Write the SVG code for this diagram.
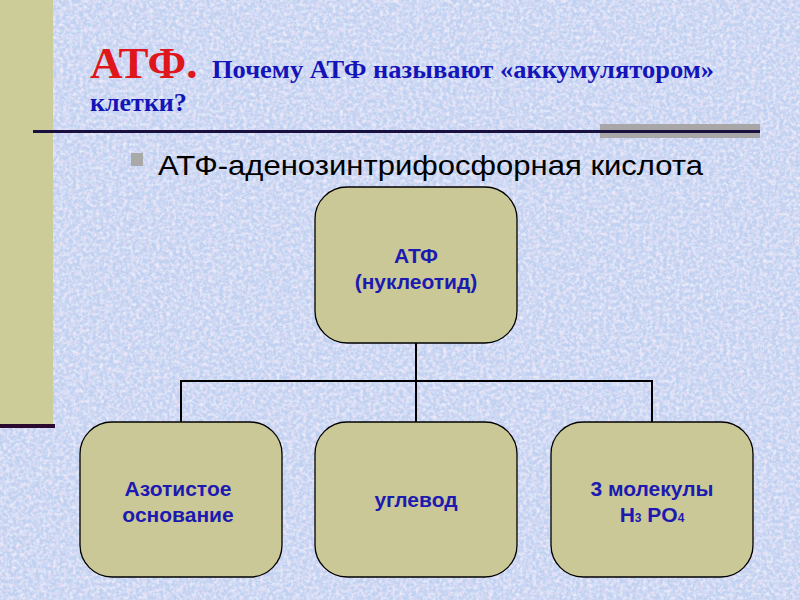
<svg xmlns="http://www.w3.org/2000/svg" width="800" height="600" viewBox="0 0 800 600">
  <defs>
    <filter id="noise" x="0" y="0" width="100%" height="100%">
      <feTurbulence type="fractalNoise" baseFrequency="0.25" numOctaves="3" seed="3" result="t"/>
      <feColorMatrix type="matrix" values="0 0 0 0 0.92  0 0 0 0 0.78  0 0 0 0 0.93  1.8 0 0 0 -0.75" in="t" result="pink"/>
      <feTurbulence type="fractalNoise" baseFrequency="0.3" numOctaves="3" seed="11" result="t2"/>
      <feColorMatrix type="matrix" values="0 0 0 0 0.88  0 0 0 0 0.93  0 0 0 0 1  1.8 0 0 0 -0.78" in="t2" result="white"/>
      <feMerge><feMergeNode in="pink"/><feMergeNode in="white"/></feMerge>
    </filter>
    <style>
      .box { fill: #cbc898; stroke: #000; stroke-width: 1.3; }
      .lbl { font-family: "Liberation Sans", Arial, sans-serif; font-weight: bold; font-size: 21px; fill: #1c1ab0; text-anchor: middle; }
      .con { stroke: #000; stroke-width: 2; fill: none; }
    </style>
  </defs>
  <rect x="0" y="0" width="800" height="600" fill="#c0d0f0"/>
  <rect x="0" y="0" width="800" height="600" filter="url(#noise)"/>
  <rect x="0" y="0" width="53" height="424" fill="#cccc99"/>
  <rect x="0" y="424" width="55" height="4" fill="#2a0a2e"/>
  <rect x="600" y="124" width="160" height="14" fill="#a9a6a8"/>
  <rect x="33" y="130" width="727" height="3" fill="#1a1040"/>

  <text x="90" y="78" font-family="Liberation Serif, 'Times New Roman', serif" font-weight="bold" font-size="45" fill="#e0161d">АТФ.</text>
  <text x="212" y="78" font-family="Liberation Serif, 'Times New Roman', serif" font-weight="bold" font-size="26" fill="#1414b8" textLength="502" lengthAdjust="spacingAndGlyphs">Почему АТФ называют «аккумулятором»</text>
  <text x="90" y="111" font-family="Liberation Serif, 'Times New Roman', serif" font-weight="bold" font-size="26" fill="#1414b8">клетки?</text>

  <rect x="131" y="153" width="12" height="13" fill="#a9a9a9"/>
  <text x="158" y="175" font-family="Liberation Sans, Arial, sans-serif" font-size="28" fill="#000" textLength="545" lengthAdjust="spacingAndGlyphs">АТФ-аденозинтрифосфорная кислота</text>

  <g id="connectors">
    <line class="con" x1="416" y1="343" x2="416" y2="422"/>
    <line class="con" x1="180" y1="381" x2="653" y2="381"/>
    <line class="con" x1="181" y1="381" x2="181" y2="422"/>
    <line class="con" x1="652" y1="381" x2="652" y2="422"/>
  </g>

  <g id="atf">
    <rect class="box" x="315" y="187" width="202" height="156" rx="32"/>
    <text class="lbl" x="416" y="263">АТФ</text>
    <text class="lbl" x="416" y="289">(нуклеотид)</text>
  </g>
  <g id="base">
    <rect class="box" x="80" y="422" width="202" height="155" rx="32"/>
    <text class="lbl" x="178" y="496">Азотистое</text>
    <text class="lbl" x="178" y="522">основание</text>
  </g>
  <g id="sugar">
    <rect class="box" x="315" y="422" width="202" height="155" rx="32"/>
    <text class="lbl" x="416" y="507">углевод</text>
  </g>
  <g id="phosphate">
    <rect class="box" x="551" y="422" width="202" height="155" rx="32"/>
    <text class="lbl" x="652" y="496">3 молекулы</text>
    <text class="lbl" x="652" y="522">H<tspan font-size="12">3</tspan> PO<tspan font-size="12">4</tspan></text>
  </g>
</svg>
